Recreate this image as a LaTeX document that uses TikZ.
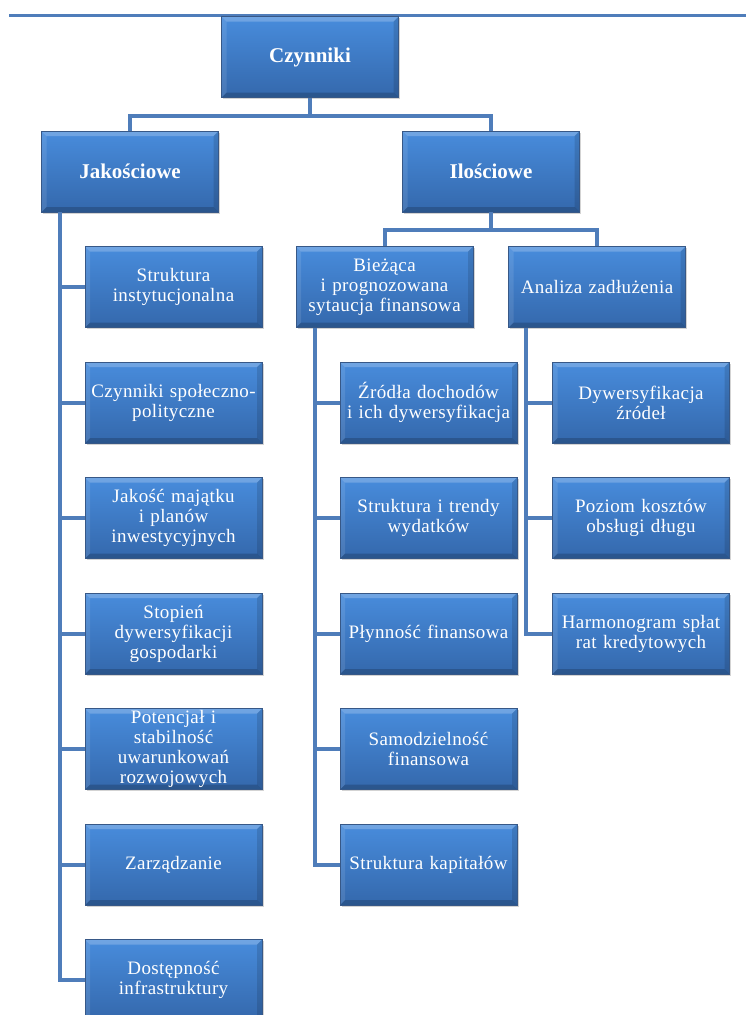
\documentclass[tikz,border=0pt]{standalone}
\usepackage{fontspec}
\setmainfont{Liberation Serif}
\usetikzlibrary{shadows}

\definecolor{boxtop}{RGB}{72,140,220}
\definecolor{boxbot}{RGB}{52,104,172}
\definecolor{boxedge}{RGB}{55,88,135}
\definecolor{linkblue}{RGB}{79,125,186}

\newcommand{\leaffont}{\addfontfeatures{LetterSpace=2}\fontsize{19}{20}\selectfont}
\newcommand{\topfont}{\fontsize{21}{24}\selectfont\bfseries}

\tikzset{
    box/.style={draw=boxedge, line width=0.8pt, top color=boxtop, bottom color=boxbot,
        text=white, minimum width=177pt, minimum height=81pt, text width=174pt,
        inner xsep=1.5pt, inner ysep=0pt, align=center, font=\leaffont,
        drop shadow={shadow xshift=1.5pt, shadow yshift=-1.5pt, opacity=.35},
        path picture={
            \fill[white, opacity=.22] (path picture bounding box.north west) -- (path picture bounding box.north east)
                -- ([xshift=-5pt, yshift=-5pt]path picture bounding box.north east) -- ([xshift=5pt, yshift=-5pt]path picture bounding box.north west) -- cycle;
            \fill[black, opacity=.18] (path picture bounding box.south west) -- (path picture bounding box.south east)
                -- ([xshift=-5pt, yshift=5pt]path picture bounding box.south east) -- ([xshift=5pt, yshift=5pt]path picture bounding box.south west) -- cycle;
            \fill[black, opacity=.12] (path picture bounding box.north east) -- (path picture bounding box.south east)
                -- ([xshift=-5pt, yshift=5pt]path picture bounding box.south east) -- ([xshift=-5pt, yshift=-5pt]path picture bounding box.north east) -- cycle;
            \fill[white, opacity=.1] (path picture bounding box.north west) -- (path picture bounding box.south west)
                -- ([xshift=5pt, yshift=5pt]path picture bounding box.south west) -- ([xshift=5pt, yshift=-5pt]path picture bounding box.north west) -- cycle;
        }},
    topbox/.style={box, font=\topfont},
    link/.style={linkblue, line width=4pt}
}

\begin{document}
\begin{tikzpicture}[x=1pt, y=-1pt]
    \useasboundingbox (0,0) rectangle (746,1015);
    \draw[linkblue, line width=3pt] (9,15) -- (746,15);

    % top levels
    \node[topbox] (cz) at (310, 57) {Czynniki};
    \node[topbox] (jak) at (130, 171.5) {Jakościowe};
    \node[topbox] (ilo) at (491, 171.5) {Ilościowe};
    \node[box] (biez) at (384.5, 287) {Bieżąca\\i prognozowana\\sytaucja finansowa};
    \node[box] (ana) at (597, 287) {Analiza zadłużenia};

    % leaves
    \foreach \txt [count=\i] in {{Struktura\\instytucjonalna}, {Czynniki społeczno-\\polityczne},
            {Jakość majątku\\i planów\\inwestycyjnych}, {Stopień\\dywersyfikacji\\gospodarki},
            {Potencjał i\\stabilność\\uwarunkowań\\rozwojowych}, {Zarządzanie}, {Dostępność\\infrastruktury}}
        \node[box] (j\i) at (173.5, {287+115.5*(\i-1)}) {\txt};
    \foreach \txt [count=\i] in {{Źródła dochodów\\i ich dywersyfikacja}, {Struktura  i trendy\\wydatków},
            {Płynność finansowa}, {Samodzielność\\finansowa}, {Struktura kapitałów}}
        \node[box] (b\i) at (428.5, {402.5+115.5*(\i-1)}) {\txt};
    \foreach \txt [count=\i] in {{Dywersyfikacja\\źródeł}, {Poziom kosztów\\obsługi długu},
            {Harmonogram spłat\\rat kredytowych}}
        \node[box] (a\i) at (641, {402.5+115.5*(\i-1)}) {\txt};

    % connectors
    \draw[link] (cz.south) -- ++(0,18) -| (jak.north);
    \draw[link] (cz.south) -- ++(0,18) -| (ilo.north);
    \draw[link] (ilo.south) -- ++(0,18) -| (biez.north);
    \draw[link] (ilo.south) -- ++(0,18) -| (ana.north);
    \foreach \i in {1,...,7}
        \draw[link] ([xshift=19pt]jak.south west) |- (j\i.west);
    \foreach \i in {1,...,5}
        \draw[link] ([xshift=19pt]biez.south west) |- (b\i.west);
    \foreach \i in {1,...,3}
        \draw[link] ([xshift=18pt]ana.south west) |- (a\i.west);
\end{tikzpicture}
\end{document}
